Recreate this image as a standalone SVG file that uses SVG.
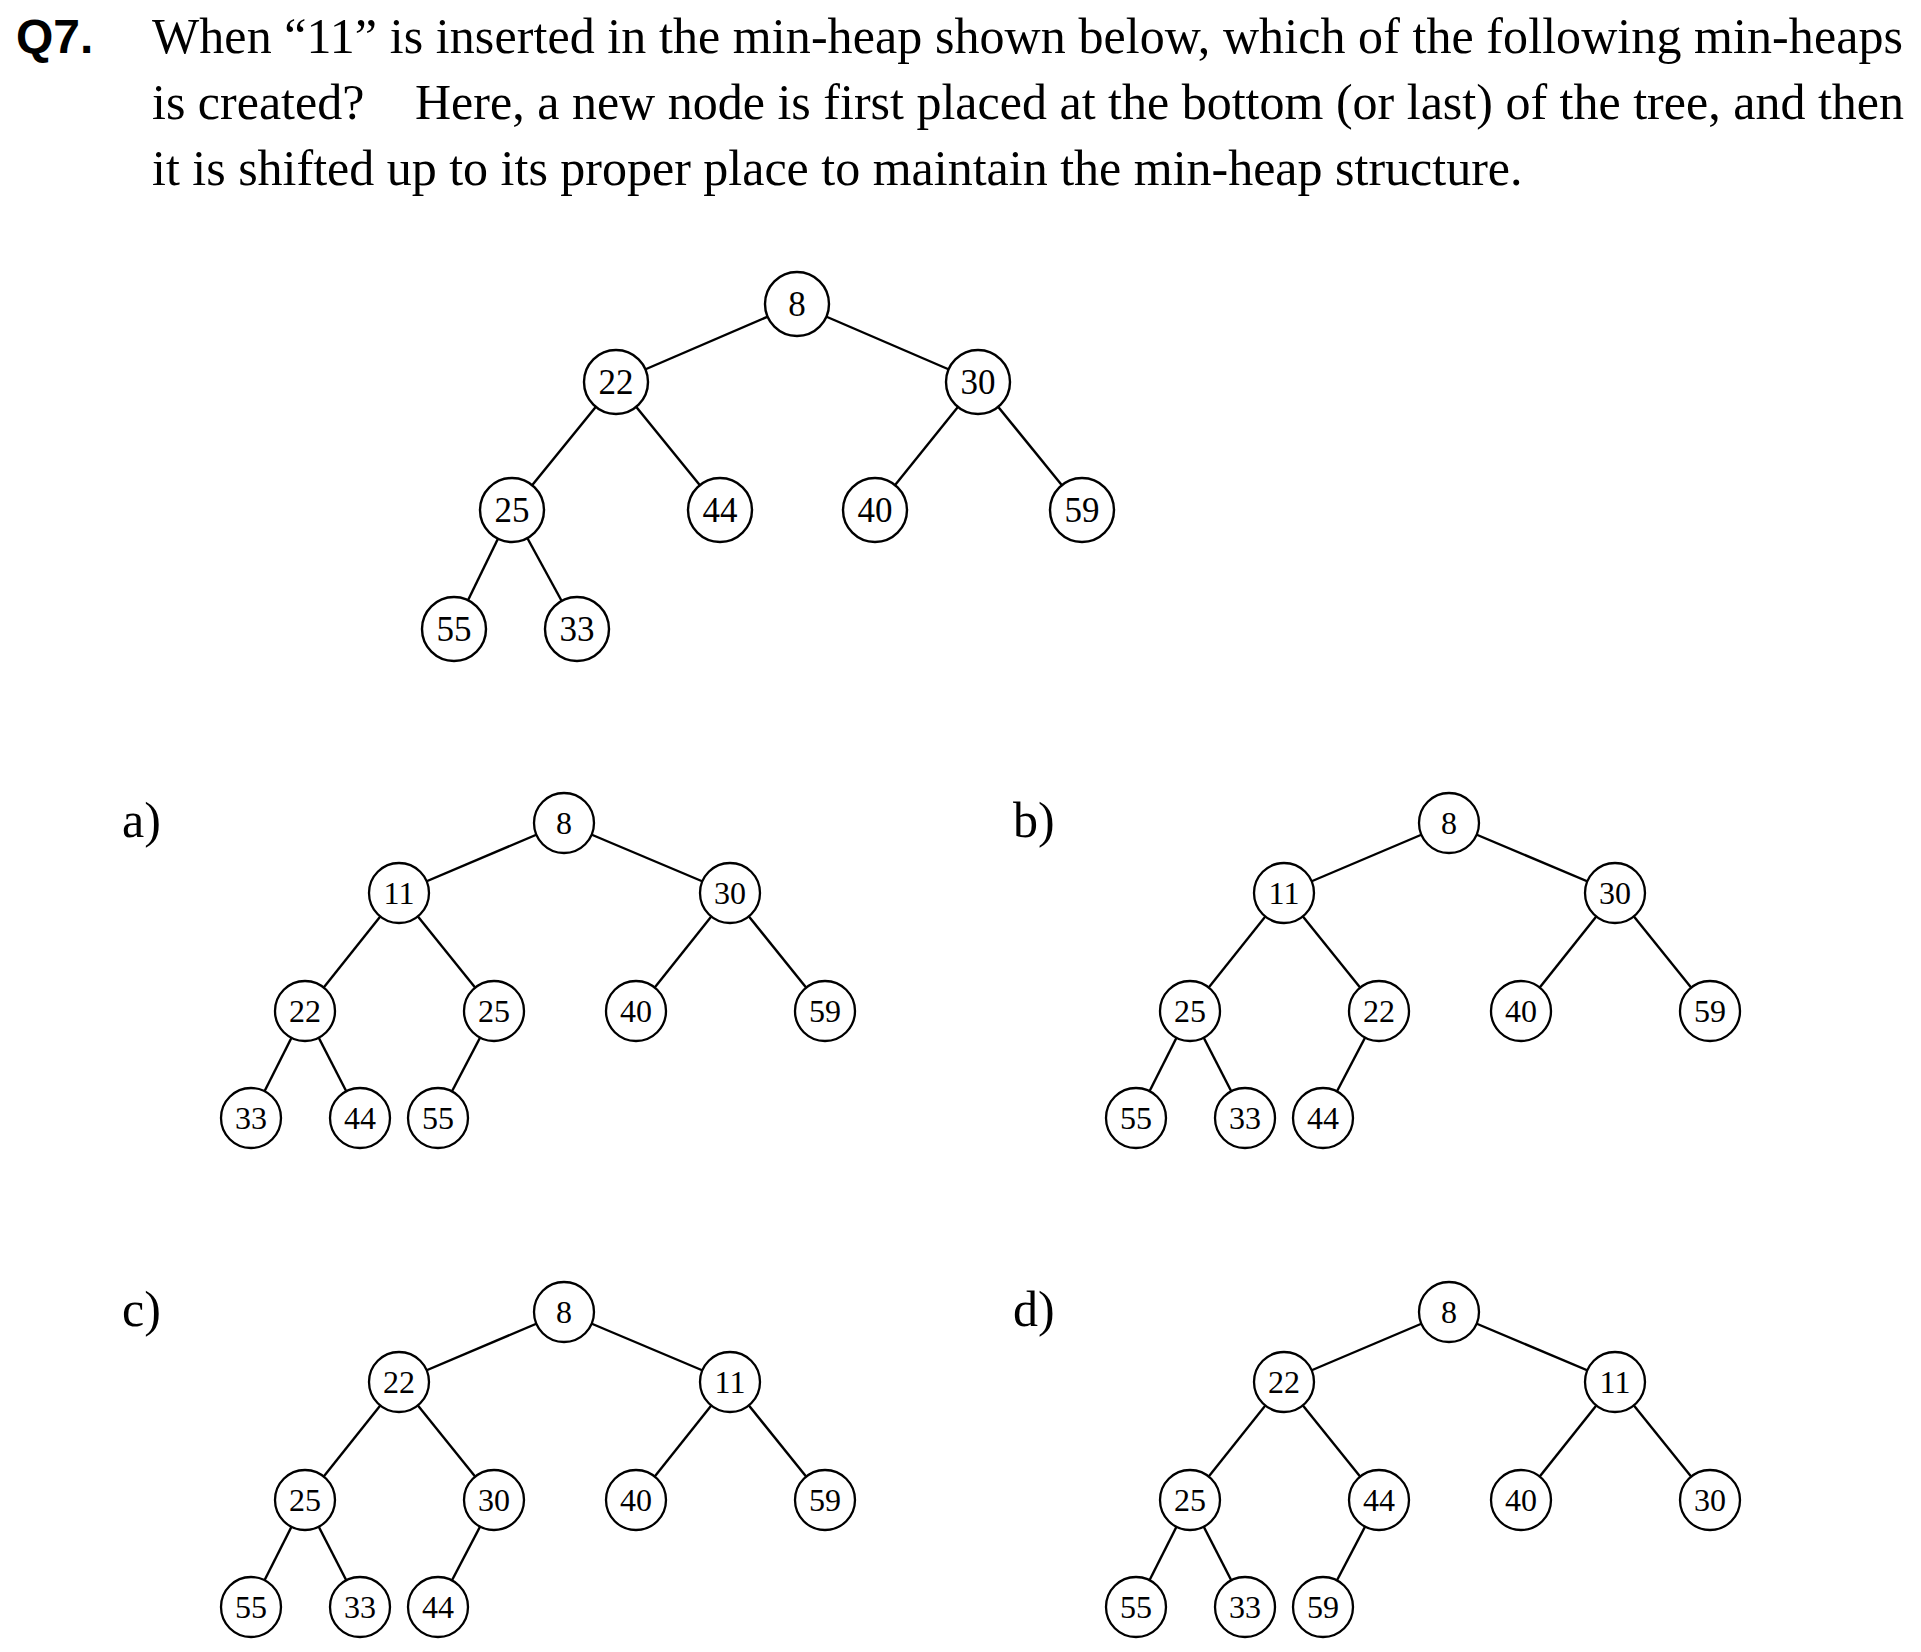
<svg xmlns="http://www.w3.org/2000/svg" width="1921" height="1652" viewBox="0 0 1921 1652">
<style>
.q{font-family:"Liberation Serif","Times New Roman",serif;font-size:50px;fill:#000}
.qb{font-family:"Liberation Sans",Arial,sans-serif;font-weight:bold;font-size:48px;fill:#000}
.lbl{font-family:"Liberation Serif","Times New Roman",serif;font-size:50px;fill:#000}
.e{stroke:#000;stroke-width:2.4;fill:none}
.mc{fill:#fff;stroke:#000;stroke-width:2.4}
.mt{font-family:"Liberation Serif","Times New Roman",serif;font-size:35px;text-anchor:middle;fill:#000}
.oc{fill:#fff;stroke:#000;stroke-width:2.3}
.ot{font-family:"Liberation Serif","Times New Roman",serif;font-size:32px;text-anchor:middle;fill:#000}
</style>
<rect width="1921" height="1652" fill="#fff"/>
<g id="question">
<text class="qb" x="16" y="53">Q7.</text>
<text class="q" x="152" y="53" textLength="1751" lengthAdjust="spacing">When “11” is inserted in the min-heap shown below, which of the following min-heaps</text>
<text class="q" x="152" y="119">is created?</text>
<text class="q" x="415" y="119" textLength="1489" lengthAdjust="spacing">Here, a new node is first placed at the bottom (or last) of the tree, and then</text>
<text class="q" x="152" y="185">it is shifted up to its proper place to maintain the min-heap structure.</text>
</g>
<g id="main-tree">
<g id="main-connectors" class="e">
<line x1="797" y1="304" x2="616" y2="382"/>
<line x1="797" y1="304" x2="978" y2="382"/>
<line x1="616" y1="382" x2="512" y2="510"/>
<line x1="616" y1="382" x2="720" y2="510"/>
<line x1="978" y1="382" x2="875" y2="510"/>
<line x1="978" y1="382" x2="1082" y2="510"/>
<line x1="512" y1="510" x2="454" y2="629"/>
<line x1="512" y1="510" x2="577" y2="629"/>
</g>
<g id="m8"><circle class="mc" cx="797" cy="304" r="32"/><text class="mt" x="797" y="316">8</text></g>
<g id="m22"><circle class="mc" cx="616" cy="382" r="32"/><text class="mt" x="616" y="394">22</text></g>
<g id="m30"><circle class="mc" cx="978" cy="382" r="32"/><text class="mt" x="978" y="394">30</text></g>
<g id="m25"><circle class="mc" cx="512" cy="510" r="32"/><text class="mt" x="512" y="522">25</text></g>
<g id="m44"><circle class="mc" cx="720" cy="510" r="32"/><text class="mt" x="720" y="522">44</text></g>
<g id="m40"><circle class="mc" cx="875" cy="510" r="32"/><text class="mt" x="875" y="522">40</text></g>
<g id="m59"><circle class="mc" cx="1082" cy="510" r="32"/><text class="mt" x="1082" y="522">59</text></g>
<g id="m55"><circle class="mc" cx="454" cy="629" r="32"/><text class="mt" x="454" y="641">55</text></g>
<g id="m33"><circle class="mc" cx="577" cy="629" r="32"/><text class="mt" x="577" y="641">33</text></g>
</g>
<defs>
<g id="opt-edges" class="e">
<line x1="564" y1="823" x2="399" y2="893"/>
<line x1="564" y1="823" x2="730" y2="893"/>
<line x1="399" y1="893" x2="305" y2="1011"/>
<line x1="399" y1="893" x2="494" y2="1011"/>
<line x1="730" y1="893" x2="636" y2="1011"/>
<line x1="730" y1="893" x2="825" y2="1011"/>
<line x1="305" y1="1011" x2="251" y2="1118"/>
<line x1="305" y1="1011" x2="360" y2="1118"/>
<line x1="494" y1="1011" x2="438" y2="1118"/>
</g>
</defs>
<g id="option-a">
<text class="lbl" x="122" y="837">a)</text>
<use href="#opt-edges"/>
<g id="a8"><circle class="oc" cx="564" cy="823" r="30"/><text class="ot" x="564" y="834">8</text></g>
<g id="a11"><circle class="oc" cx="399" cy="893" r="30"/><text class="ot" x="399" y="904">11</text></g>
<g id="a30"><circle class="oc" cx="730" cy="893" r="30"/><text class="ot" x="730" y="904">30</text></g>
<g id="a22"><circle class="oc" cx="305" cy="1011" r="30"/><text class="ot" x="305" y="1022">22</text></g>
<g id="a25"><circle class="oc" cx="494" cy="1011" r="30"/><text class="ot" x="494" y="1022">25</text></g>
<g id="a40"><circle class="oc" cx="636" cy="1011" r="30"/><text class="ot" x="636" y="1022">40</text></g>
<g id="a59"><circle class="oc" cx="825" cy="1011" r="30"/><text class="ot" x="825" y="1022">59</text></g>
<g id="a33"><circle class="oc" cx="251" cy="1118" r="30"/><text class="ot" x="251" y="1129">33</text></g>
<g id="a44"><circle class="oc" cx="360" cy="1118" r="30"/><text class="ot" x="360" y="1129">44</text></g>
<g id="a55"><circle class="oc" cx="438" cy="1118" r="30"/><text class="ot" x="438" y="1129">55</text></g>
</g>
<g id="option-b" transform="translate(885,0)">
<text class="lbl" x="128" y="837">b)</text>
<use href="#opt-edges"/>
<g id="b8"><circle class="oc" cx="564" cy="823" r="30"/><text class="ot" x="564" y="834">8</text></g>
<g id="b11"><circle class="oc" cx="399" cy="893" r="30"/><text class="ot" x="399" y="904">11</text></g>
<g id="b30"><circle class="oc" cx="730" cy="893" r="30"/><text class="ot" x="730" y="904">30</text></g>
<g id="b25"><circle class="oc" cx="305" cy="1011" r="30"/><text class="ot" x="305" y="1022">25</text></g>
<g id="b22"><circle class="oc" cx="494" cy="1011" r="30"/><text class="ot" x="494" y="1022">22</text></g>
<g id="b40"><circle class="oc" cx="636" cy="1011" r="30"/><text class="ot" x="636" y="1022">40</text></g>
<g id="b59"><circle class="oc" cx="825" cy="1011" r="30"/><text class="ot" x="825" y="1022">59</text></g>
<g id="b55"><circle class="oc" cx="251" cy="1118" r="30"/><text class="ot" x="251" y="1129">55</text></g>
<g id="b33"><circle class="oc" cx="360" cy="1118" r="30"/><text class="ot" x="360" y="1129">33</text></g>
<g id="b44"><circle class="oc" cx="438" cy="1118" r="30"/><text class="ot" x="438" y="1129">44</text></g>
</g>
<g id="option-c" transform="translate(0,489)">
<text class="lbl" x="122" y="837">c)</text>
<use href="#opt-edges"/>
<g id="c8"><circle class="oc" cx="564" cy="823" r="30"/><text class="ot" x="564" y="834">8</text></g>
<g id="c22"><circle class="oc" cx="399" cy="893" r="30"/><text class="ot" x="399" y="904">22</text></g>
<g id="c11"><circle class="oc" cx="730" cy="893" r="30"/><text class="ot" x="730" y="904">11</text></g>
<g id="c25"><circle class="oc" cx="305" cy="1011" r="30"/><text class="ot" x="305" y="1022">25</text></g>
<g id="c30"><circle class="oc" cx="494" cy="1011" r="30"/><text class="ot" x="494" y="1022">30</text></g>
<g id="c40"><circle class="oc" cx="636" cy="1011" r="30"/><text class="ot" x="636" y="1022">40</text></g>
<g id="c59"><circle class="oc" cx="825" cy="1011" r="30"/><text class="ot" x="825" y="1022">59</text></g>
<g id="c55"><circle class="oc" cx="251" cy="1118" r="30"/><text class="ot" x="251" y="1129">55</text></g>
<g id="c33"><circle class="oc" cx="360" cy="1118" r="30"/><text class="ot" x="360" y="1129">33</text></g>
<g id="c44"><circle class="oc" cx="438" cy="1118" r="30"/><text class="ot" x="438" y="1129">44</text></g>
</g>
<g id="option-d" transform="translate(885,489)">
<text class="lbl" x="128" y="837">d)</text>
<use href="#opt-edges"/>
<g id="d8"><circle class="oc" cx="564" cy="823" r="30"/><text class="ot" x="564" y="834">8</text></g>
<g id="d22"><circle class="oc" cx="399" cy="893" r="30"/><text class="ot" x="399" y="904">22</text></g>
<g id="d11"><circle class="oc" cx="730" cy="893" r="30"/><text class="ot" x="730" y="904">11</text></g>
<g id="d25"><circle class="oc" cx="305" cy="1011" r="30"/><text class="ot" x="305" y="1022">25</text></g>
<g id="d44"><circle class="oc" cx="494" cy="1011" r="30"/><text class="ot" x="494" y="1022">44</text></g>
<g id="d40"><circle class="oc" cx="636" cy="1011" r="30"/><text class="ot" x="636" y="1022">40</text></g>
<g id="d30"><circle class="oc" cx="825" cy="1011" r="30"/><text class="ot" x="825" y="1022">30</text></g>
<g id="d55"><circle class="oc" cx="251" cy="1118" r="30"/><text class="ot" x="251" y="1129">55</text></g>
<g id="d33"><circle class="oc" cx="360" cy="1118" r="30"/><text class="ot" x="360" y="1129">33</text></g>
<g id="d59"><circle class="oc" cx="438" cy="1118" r="30"/><text class="ot" x="438" y="1129">59</text></g>
</g>
</svg>
